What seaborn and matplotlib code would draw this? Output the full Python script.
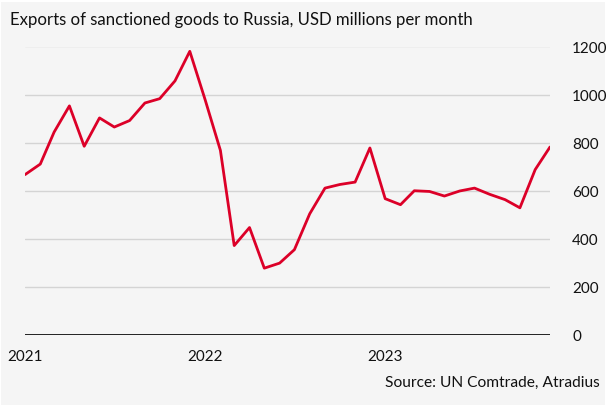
import matplotlib
matplotlib.use("Agg")
import matplotlib.pyplot as plt
from matplotlib.patches import Rectangle
import pandas as pd
import seaborn as sn

# Dados (USD milhões por mês, jan/2021 a dez/2023)
meses = pd.date_range("2021-01-01", periods=36, freq="MS")
exportacoes = [667, 711, 844, 953, 785, 903, 865, 892, 965, 983, 1057, 1180,
               979, 768, 372, 447, 278, 299, 355, 504, 611, 626, 636, 778,
               567, 542, 600, 597, 578, 599, 611, 585, 563, 529, 688, 782]
y_ticks = [0, 200, 400, 600, 800, 1000, 1200]
anos = ["2021", "2022", "2023"]

df = pd.DataFrame({"mes": meses, "valor": exportacoes})

sn.set_style("white")
plt.rcParams["font.family"] = ["Lato", "DejaVu Sans"]

bg = "#f5f5f5"
fig = plt.figure(figsize=(6.09, 4.06), dpi=100, facecolor="white")
fig.patches.append(Rectangle((1 / 609, 0), 604 / 609, 403 / 406,
                             transform=fig.transFigure, facecolor=bg,
                             edgecolor="none", zorder=-10))

ax = fig.add_axes([25 / 609, 1 - 336 / 406, 525 / 609, (336 - 47.5) / 406])
ax.set_facecolor(bg)

sn.lineplot(data=df, x="mes", y="valor", color="#dc0028", linewidth=2.0, ax=ax)

ax.set_xlim(meses[0], meses[-1])
ax.set_ylim(0, 1200)

# grade horizontal
ax.set_yticks(y_ticks)
for v in y_ticks[1:]:
    ax.axhline(v, color="#d4d4d4", lw=1, zorder=0)
ax.axhline(0, color="#222222", lw=1.4, zorder=3)

ax.yaxis.tick_right()
ax.tick_params(axis="y", length=0, pad=16, labelsize=11, labelcolor="#111111")
for lbl in ax.get_yticklabels():
    lbl.set_horizontalalignment("left")

ax.set_xticks([pd.Timestamp(a + "-01-01") for a in anos])
ax.set_xticklabels(anos)
ax.tick_params(axis="x", length=0, pad=10, labelsize=11, labelcolor="#111111")

for s in ax.spines.values():
    s.set_visible(False)
ax.set_xlabel("")
ax.set_ylabel("")

fig.text(10 / 609, 1 - 20 / 406, "Exports of sanctioned goods to Russia, USD millions per month",
         fontsize=12.1, color="#111111", va="center", ha="left")
fig.text(600 / 609, 1 - 383 / 406, "Source: UN Comtrade, Atradius",
         fontsize=11.2, color="#111111", va="center", ha="right")

fig.savefig("out.png", dpi=100, facecolor=fig.get_facecolor())
